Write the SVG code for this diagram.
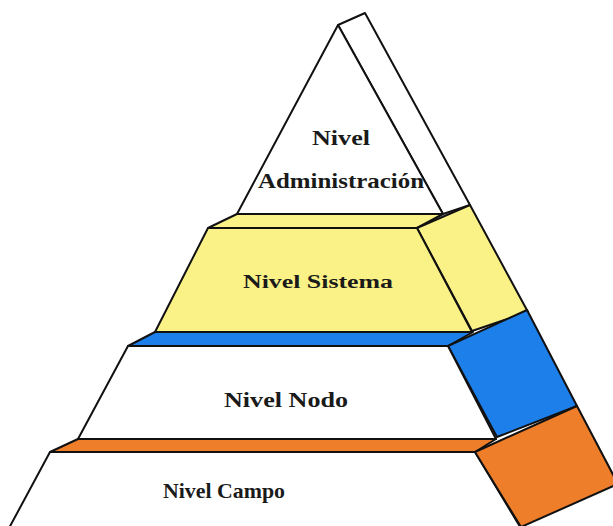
<svg xmlns="http://www.w3.org/2000/svg" width="613" height="526" viewBox="0 0 613 526">
<style>
.f{stroke:#111;stroke-width:2;stroke-linejoin:round}
.w{fill:#fff}
.y{fill:#FAF286}
.b{fill:#1C7FEA}
.o{fill:#EF7E2B}
.t{font-family:"Liberation Serif","Times New Roman",serif;fill:#1a1a1a;text-anchor:middle}
</style>
<rect width="613" height="526" fill="#fff"/>
<g id="admin">
<polygon class="f w" points="338,25 365,13 470,205 443,214"/>
<polygon class="f w" points="338,25 443,214 237,214"/>
<text class="t" x="341" y="145" font-size="20" font-weight="bold" textLength="58" lengthAdjust="spacingAndGlyphs">Nivel</text>
<text class="t" x="341" y="188" font-size="21" font-weight="bold" textLength="166" lengthAdjust="spacingAndGlyphs">Administración</text>
</g>
<g id="sistema">
<polygon class="f y" points="237,214 443,214 417,228 208,228"/>
<polygon class="f y" points="417,228 470,205 528,312 472,331"/>
<polygon class="f y" points="208,228 417,228 472,332 155,332"/>
<text class="t" x="318" y="288" font-size="18" font-weight="bold" textLength="150" lengthAdjust="spacingAndGlyphs">Nivel Sistema</text>
</g>
<g id="nodo">
<polygon class="f b" points="155,332 473,332 448,346 128,346"/>
<polygon class="f b" points="448,346 527,310 577,406 497,437"/>
<polygon class="f w" points="128,346 448,346 496,439 78,439"/>
<text class="t" x="286" y="407" font-size="21" font-weight="bold" textLength="124" lengthAdjust="spacingAndGlyphs">Nivel Nodo</text>
</g>
<g id="campo">
<polygon class="f o" points="78,439 496,439 475,452 50,452"/>
<polygon class="f w" points="50,452 475,452 522,530 8,530"/>
<polygon class="f o" points="475,452 577,406 618,484 521,527"/>
<text class="t" x="224" y="498" font-size="22" font-weight="bold" textLength="122" lengthAdjust="spacingAndGlyphs">Nivel Campo</text>
</g>
</svg>
